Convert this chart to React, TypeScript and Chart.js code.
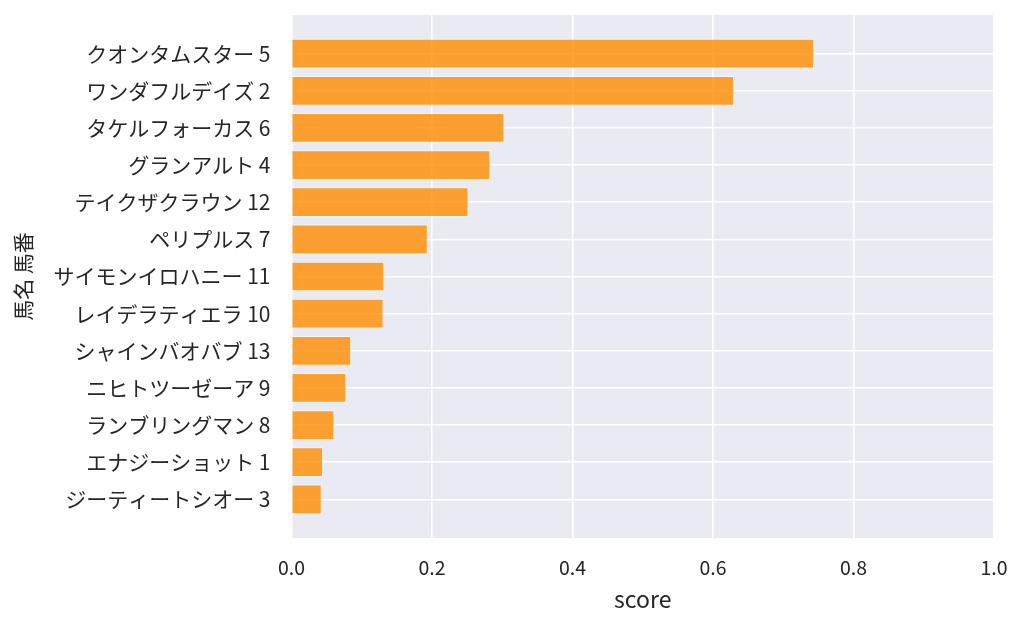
import React, { useEffect, useRef } from "react";
import { Chart, registerables } from "chart.js";

Chart.register(...registerables);

const horseNames = [
  "クオンタムスター 5",
  "ワンダフルデイズ 2",
  "タケルフォーカス 6",
  "グランアルト 4",
  "テイクザクラウン 12",
  "ペリプルス 7",
  "サイモンイロハニー 11",
  "レイデラティエラ 10",
  "シャインバオバブ 13",
  "ニヒトツーゼーア 9",
  "ランブリングマン 8",
  "エナジーショット 1",
  "ジーティートシオー 3",
];

const scores = [
  0.744, 0.63, 0.303, 0.283, 0.252, 0.194, 0.132, 0.131, 0.085, 0.078, 0.061,
  0.045, 0.043,
];

const xTicks = [0, 0.2, 0.4, 0.6, 0.8, 1.0];

const FONT = "'Noto Sans CJK JP', 'Noto Sans', sans-serif";

const plotBackground = {
  id: "plotBackground",
  beforeDraw(chart: Chart) {
    const { ctx, chartArea } = chart;
    ctx.save();
    ctx.fillStyle = "#EAEAF2";
    ctx.fillRect(
      chartArea.left,
      chartArea.top,
      chartArea.right - chartArea.left,
      chartArea.bottom - chartArea.top
    );
    ctx.restore();
  },
};

const App: React.FC = () => {
  const chartRef = useRef<HTMLCanvasElement>(null);
  const chartInstance = useRef<Chart | null>(null);

  useEffect(() => {
    document.body.style.margin = "0";
    if (!chartRef.current) return;
    if (chartInstance.current) {
      chartInstance.current.destroy();
    }
    const ctx = chartRef.current.getContext("2d");

    chartInstance.current = new Chart(ctx!, {
      type: "bar",
      data: {
        datasets: [
          {
            data: scores.map((v, i) => ({ x: v, y: i })),
            backgroundColor: "rgba(255, 140, 0, 0.8)",
            borderColor: "rgba(255, 255, 255, 0.6)",
            borderWidth: 1,
            barPercentage: 0.8,
            categoryPercentage: 1.0,
          },
        ],
      },
      options: {
        indexAxis: "y",
        animation: false,
        responsive: true,
        maintainAspectRatio: false,
        layout: { padding: { top: 15, right: 30, left: 0, bottom: 0 } },
        plugins: {
          legend: { display: false },
          tooltip: { enabled: false },
        },
        scales: {
          x: {
            type: "linear",
            min: 0,
            max: 1,
            afterBuildTicks: (scale: any) => {
              scale.ticks = xTicks.map((v) => ({ value: v }));
            },
            afterFit: (scale: any) => {
              scale.height = 89;
              scale.paddingLeft = 0;
              scale.paddingRight = 0;
            },
            grid: { color: "#ffffff", lineWidth: 1.6, drawTicks: false },
            border: { display: false },
            ticks: {
              padding: 18,
              color: "#262626",
              font: { family: FONT, size: 19.5 },
              callback: (v: any) => Number(v).toFixed(1),
            },
            title: {
              display: true,
              text: "score",
              color: "#262626",
              font: { family: FONT, size: 23 },
              padding: { top: 0, bottom: 14 },
            },
          },
          y: {
            type: "linear",
            min: -1.04,
            max: 13.04,
            reverse: true,
            offset: false,
            afterBuildTicks: (scale: any) => {
              scale.ticks = horseNames.map((_, i) => ({ value: i }));
            },
            afterFit: (scale: any) => {
              scale.width = 291.5;
              scale.paddingTop = 0;
              scale.paddingBottom = 0;
            },
            grid: {
              color: "#ffffff",
              lineWidth: 1.6,
              drawTicks: false,
              offset: false,
            },
            border: { display: false },
            ticks: {
              padding: 21,
              autoSkip: false,
              color: "#262626",
              font: { family: FONT, size: 21 },
              callback: (v: any) => horseNames[Math.round(Number(v))] ?? "",
            },
            title: {
              display: true,
              text: "馬名 馬番",
              color: "#262626",
              font: { family: FONT, size: 21 },
              padding: { top: 10, bottom: 0 },
            },
          },
        },
      },
      plugins: [plotBackground],
    });

    return () => {
      if (chartInstance.current) {
        chartInstance.current.destroy();
        chartInstance.current = null;
      }
    };
  }, []);

  return (
    <div style={{ width: 1024, height: 627, position: "relative" }}>
      <canvas ref={chartRef} />
    </div>
  );
};

export default App;
